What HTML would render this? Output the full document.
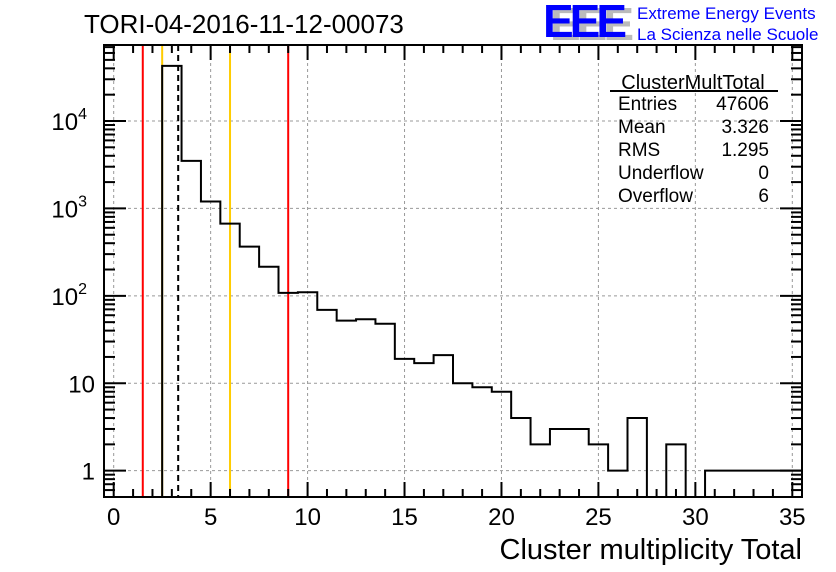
<!DOCTYPE html>
<html><head><meta charset="utf-8"><style>
html,body{margin:0;padding:0;background:#fff;}
svg{display:block;font-family:"Liberation Sans",sans-serif;}
</style></head><body>
<svg id="c" width="836" height="572" viewBox="0 0 836 572"></svg>
<script>
const binCenters=[0,1,2,3,4,5,6,7,8,9,10,11,12,13,14,15,16,17,18,19,20,21,22,23,24,25,26,27,28,29,30,31,32,33,34,35];
const counts=[0,0,0,42700,3500,1200,670,365,215,108,110,69,52,54,48,19,17,21,10,9,8,4,2,3,3,2,1,4,0,2,0,1,1,1,1,1];
const xTicks=[0,5,10,15,20,25,30,35];
const yDecades=[1,10,100,1000,10000];
const yLabels=["1","10","10²","10³","10⁴"];
const redLines=[1.5,9];
const orangeLines=[2.5,6];
const meanValue=3.326;
const statsLabels=["Entries","Mean","RMS","Underflow","Overflow"];
const statsValues=["47606","3.326","1.295","0","6"];

const NS="http://www.w3.org/2000/svg";
const svg=document.getElementById('c');
const L=104,R=802,T=45,B=497,xMin=-0.5,xMax=35.5,yMinL=Math.log10(0.5),yMaxL=Math.log10(74000);
const xs=v=>L+(v-xMin)/(xMax-xMin)*(R-L);
const ys=v=>B-(Math.log10(v)-yMinL)/(yMaxL-yMinL)*(B-T);
function el(tag,attrs,txt){const e=document.createElementNS(NS,tag);for(const k in attrs)e.setAttribute(k,attrs[k]);if(txt!==undefined)e.textContent=txt;svg.appendChild(e);return e;}

xTicks.forEach(v=>{const g=el('line',{x1:xs(v),x2:xs(v),y1:T,y2:B,stroke:'#999','stroke-dasharray':'3,3','stroke-width':1});

});
yDecades.forEach(v=>{const g=el('line',{x1:L,x2:R,y1:ys(v),y2:ys(v),stroke:'#999','stroke-dasharray':'3,3','stroke-width':1});

});

redLines.forEach(v=>{const l=el('line',{x1:xs(v),x2:xs(v),y1:T,y2:B,stroke:'#f00','stroke-width':2});

});
orangeLines.forEach(v=>{const l=el('line',{x1:xs(v),x2:xs(v),y1:T,y2:B,stroke:'#fc0','stroke-width':2});

});

let d='M'+xs(xMin)+','+B;
binCenters.forEach((c,i)=>{const y=counts[i]>0?ys(counts[i]):B;d+=' L'+xs(c-0.5)+','+y+' L'+xs(c+0.5)+','+y;});
d+=' L'+xs(xMax)+','+B;
const h=el('path',{d:d,fill:'none',stroke:'#000','stroke-width':2});



const ml=el('line',{x1:xs(meanValue),x2:xs(meanValue),y1:T,y2:B,stroke:'#000','stroke-width':2,'stroke-dasharray':'6,4'});



const fr=el('rect',{x:L,y:T,width:R-L,height:B-T,fill:'none',stroke:'#000','stroke-width':2});



for(let v=0;v<=35;v++){const major=v%5===0;const len=major?15:8;
el('line',{x1:xs(v),x2:xs(v),y1:B,y2:B-len,stroke:'#000','stroke-width':2});
el('line',{x1:xs(v),x2:xs(v),y1:T,y2:T+len,stroke:'#000','stroke-width':2});}
xTicks.forEach(v=>{const t=el('text',{x:xs(v),y:525,'text-anchor':'middle','font-size':24},String(v));

});
for(let dec=-1;dec<=4;dec++){for(let m=1;m<10;m++){const v=m*Math.pow(10,dec);if(v<0.5||v>74000)continue;const len=m===1?22:11;
el('line',{x1:L,x2:L+len,y1:ys(v),y2:ys(v),stroke:'#000','stroke-width':2});
el('line',{x1:R,x2:R-len,y1:ys(v),y2:ys(v),stroke:'#000','stroke-width':2});}}
yDecades.forEach((v,i)=>{const t=el('text',{x:95,y:ys(v)+9,'text-anchor':'end','font-size':24},'');


if(v>=100){t.textContent='10';const s=document.createElementNS(NS,'tspan');s.setAttribute('dy','-11');s.setAttribute('font-size','16');s.textContent=String(Math.log10(v));t.appendChild(s);t.setAttribute('x',87);}else t.textContent=yLabels[i];});

const tt=el('text',{x:84,y:33,'font-size':26},'TORI-04-2016-11-12-00073');


const xt=el('text',{x:802,y:559,'text-anchor':'end','font-size':29},'Cluster multiplicity Total');



const lg1=el('text',{x:550,y:40,'font-size':46,'font-weight':'bold',fill:'#bbb','letter-spacing':'-4'},'EEE');


const lg=el('text',{x:543,y:37,'font-size':46,'font-weight':'bold',fill:'#00f','letter-spacing':'-4'},'EEE');


const l1=el('text',{x:637,y:19,'font-size':17,fill:'#00f'},'Extreme Energy Events');


const l2=el('text',{x:637,y:40,'font-size':17,fill:'#00f'},'La Scienza nelle Scuole');



const st=el('text',{x:693,y:89,'text-anchor':'middle','font-size':20},'ClusterMultTotal');


el('line',{x1:610,x2:778,y1:91,y2:91,stroke:'#000','stroke-width':2});
statsLabels.forEach((s,i)=>{const y=110+i*23;
const a=el('text',{x:618,y:y,'font-size':19},s);


const b=el('text',{x:769,y:y,'text-anchor':'end','font-size':19},statsValues[i]);

});
</script>
</body></html>
